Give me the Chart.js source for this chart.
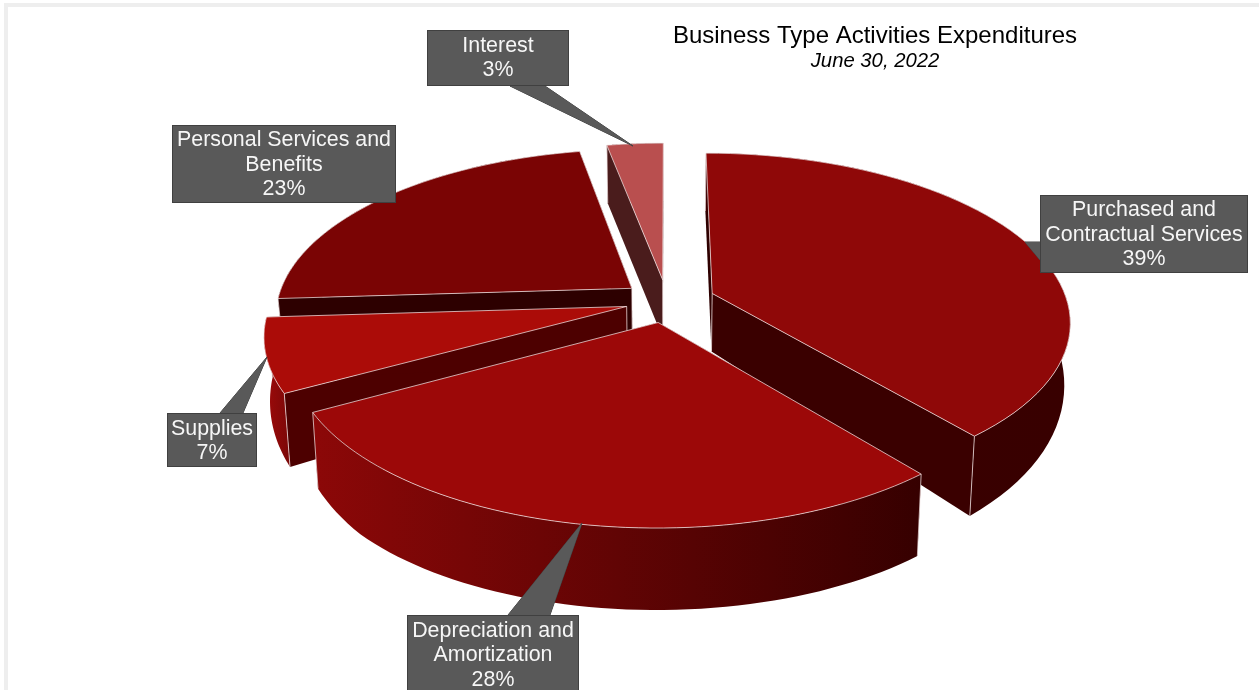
<!DOCTYPE html>
<html>
<head>
<meta charset="utf-8">
<title>Business Type Activities Expenditures</title>
<script src="https://cdn.jsdelivr.net/npm/chart.js@4"></script>
<style>
  html, body { margin: 0; padding: 0; background: #fff; overflow: hidden; }
  #wrap { position: relative; width: 1259px; height: 690px; }
  #frame { position: absolute; left: 4px; top: 3px; right: 0; bottom: 0;
           border-left: 4px solid #eeeeee; border-top: 4px solid #eeeeee; }
  canvas { position: absolute; left: 0; top: 0; }
</style>
</head>
<body>
<div id="wrap">
  <div id="frame"></div>
  <canvas id="expenditures" width="1259" height="690"></canvas>
</div>
<script>
  const categories = ['Purchased and Contractual Services', 'Depreciation and Amortization', 'Supplies', 'Personal Services and Benefits', 'Interest'];
  const percents = [39, 28, 7, 23, 3];
  const labelLines = [
    ['Purchased and', 'Contractual Services'],
    ['Depreciation and', 'Amortization'],
    ['Supplies'],
    ['Personal Services and', 'Benefits'],
    ['Interest']
  ];

  // slice styling, same order as categories
  const explode = [44, 42, 38, 41, 42];
  const topColors = ['#8f0808', '#9c0808', '#ab0c08', '#7a0404', '#b94f4f'];
  const startWall = ['#2e0000', '#3a0000', '#4d0000', '#2d0000', '#4a1c1c'];
  const endWall = ['#3a0000', '#3a0000', '#4d0000', '#2d0000', '#4a1c1c'];
  const rimLeft = ['#3a0000', '#8c0808', '#a00a0a', '#2d0000', '#4a1c1c'];
  const rimRight = ['#380000', '#360000', '#7a0808', '#2d0000', '#4a1c1c'];
  const paintOrder = [4, 3, 0, 2, 1];   // back to front

  // callout boxes: [left, top, right, bottom], leader triangle
  const callouts = [
    { box: [1040, 195, 1248, 273], leader: [[1040, 242], [1025, 242], [1040, 260]] },
    { box: [407, 615, 579, 700], leader: [[508, 615], [582, 523], [550, 615]] },
    { box: [167, 413, 257, 467], leader: [[220, 413], [267, 357], [243, 413]] },
    { box: [172, 125, 396, 203], leader: null },
    { box: [427, 30, 569, 86], leader: [[510, 86], [633, 146], [545, 86]] }
  ];

  // the tilted plane the pie lies on
  const view = { cx: 667, cy: 301, a: 355, b: 165, k: 0.16, shrink: 0.985 };

  function depthAt(v) {
    const t = Math.min(1, Math.max(0, v / 0.8));
    return 58 + 24 * t;
  }

  function project(u, v, lower) {
    const w = 1 - view.k * v;
    const x = view.a * u / w;
    const y = view.b * v / w;
    if (!lower) return [view.cx + x, view.cy + y];
    return [view.cx + x * view.shrink, view.cy + y + depthAt(v)];
  }

  function tracePolygon(ctx, pts) {
    ctx.beginPath();
    pts.forEach((p, i) => i ? ctx.lineTo(p[0], p[1]) : ctx.moveTo(p[0], p[1]));
    ctx.closePath();
  }

  function drawSlice(ctx, arc, i) {
    const r = arc.outerRadius;
    const mid = (arc.startAngle + arc.endAngle) / 2;
    const ou = Math.cos(mid) * arc.options.offset / r;
    const ov = Math.sin(mid) * arc.options.offset / r;
    const edgeColor = 'rgba(240,225,225,0.75)';

    const topRim = [], lowRim = [];
    for (let s = 0; s <= 60; s++) {
      const a = arc.startAngle + (arc.endAngle - arc.startAngle) * s / 60;
      const u = Math.cos(a) + ou, v = Math.sin(a) + ov;
      topRim.push(project(u, v, false));
      lowRim.push(project(u, v, true));
    }
    const apexTop = project(ou, ov, false);
    const apexLow = project(ou, ov, true);
    const first = 0, last = topRim.length - 1;

    // cut faces
    ctx.fillStyle = startWall[i];
    tracePolygon(ctx, [apexTop, topRim[first], lowRim[first], apexLow]);
    ctx.fill();
    ctx.fillStyle = endWall[i];
    tracePolygon(ctx, [apexTop, topRim[last], lowRim[last], apexLow]);
    ctx.fill();

    // curved outer face, shaded left to right
    const xs = topRim.concat(lowRim).map(p => p[0]);
    const grad = ctx.createLinearGradient(Math.min(...xs), 0, Math.max(...xs), 0);
    grad.addColorStop(0, rimLeft[i]);
    grad.addColorStop(1, rimRight[i]);
    ctx.fillStyle = grad;
    tracePolygon(ctx, topRim.concat(lowRim.slice().reverse()));
    ctx.fill();

    // light edges on the vertical corners
    ctx.strokeStyle = edgeColor;
    ctx.lineWidth = 1;
    [[apexTop, apexLow], [topRim[first], lowRim[first]], [topRim[last], lowRim[last]]].forEach(e => {
      ctx.beginPath();
      ctx.moveTo(e[0][0], e[0][1]);
      ctx.lineTo(e[1][0], e[1][1]);
      ctx.stroke();
    });

    // top face
    tracePolygon(ctx, [apexTop].concat(topRim));
    ctx.fillStyle = topColors[i];
    ctx.fill();
    ctx.strokeStyle = edgeColor;
    ctx.stroke();
  }

  function drawCallout(ctx, i) {
    const c = callouts[i];
    const [l, t, r, b] = c.box;
    ctx.fillStyle = '#595959';
    ctx.strokeStyle = '#404040';
    ctx.lineWidth = 1;
    if (c.leader) {
      tracePolygon(ctx, c.leader);
      ctx.fill();
      ctx.stroke();
    }
    ctx.fillRect(l, t, r - l, b - t);
    ctx.strokeRect(l + 0.5, t + 0.5, r - l - 1, b - t - 1);
    if (c.leader) {
      // close the seam where the leader joins the box
      tracePolygon(ctx, c.leader);
      ctx.fill();
    }

    const lines = labelLines[i].concat(percents[i] + '%');
    const step = 24.5;
    const startY = (t + Math.min(b, t + lines.length * step + 5)) / 2 - (lines.length - 1) * step / 2 + 1;
    ctx.fillStyle = '#f6f6f6';
    ctx.font = '21.4px "Liberation Sans", Arial, sans-serif';
    ctx.textAlign = 'center';
    ctx.textBaseline = 'middle';
    lines.forEach((line, n) => ctx.fillText(line, (l + r) / 2, startY + n * step));
  }

  const pie3d = {
    id: 'pie3d',
    beforeDatasetsDraw(chart) {
      const ctx = chart.ctx;
      const arcs = chart.getDatasetMeta(0).data;
      ctx.save();
      paintOrder.forEach(i => drawSlice(ctx, arcs[i], i));
      ctx.restore();
      return false;
    },
    afterDraw(chart) {
      const ctx = chart.ctx;
      ctx.save();
      paintOrder.forEach(i => drawCallout(ctx, i));
      ctx.fillStyle = '#000000';
      ctx.textAlign = 'center';
      ctx.textBaseline = 'middle';
      ctx.font = '24px "Liberation Sans", Arial, sans-serif';
      ctx.fillText('Business Type Activities Expenditures', 875, 36);
      ctx.font = 'italic 20.3px "Liberation Sans", Arial, sans-serif';
      ctx.fillText('June 30, 2022', 875, 61);
      ctx.restore();
    }
  };

  new Chart(document.getElementById('expenditures').getContext('2d'), {
    type: 'pie',
    data: {
      labels: categories,
      datasets: [{
        label: 'Expenditures',
        data: percents,
        backgroundColor: topColors,
        offset: explode,
        borderWidth: 0
      }]
    },
    options: {
      responsive: false,
      animation: false,
      plugins: {
        legend: { display: false },
        tooltip: { enabled: false }
      }
    },
    plugins: [pie3d]
  });
</script>
</body>
</html>
